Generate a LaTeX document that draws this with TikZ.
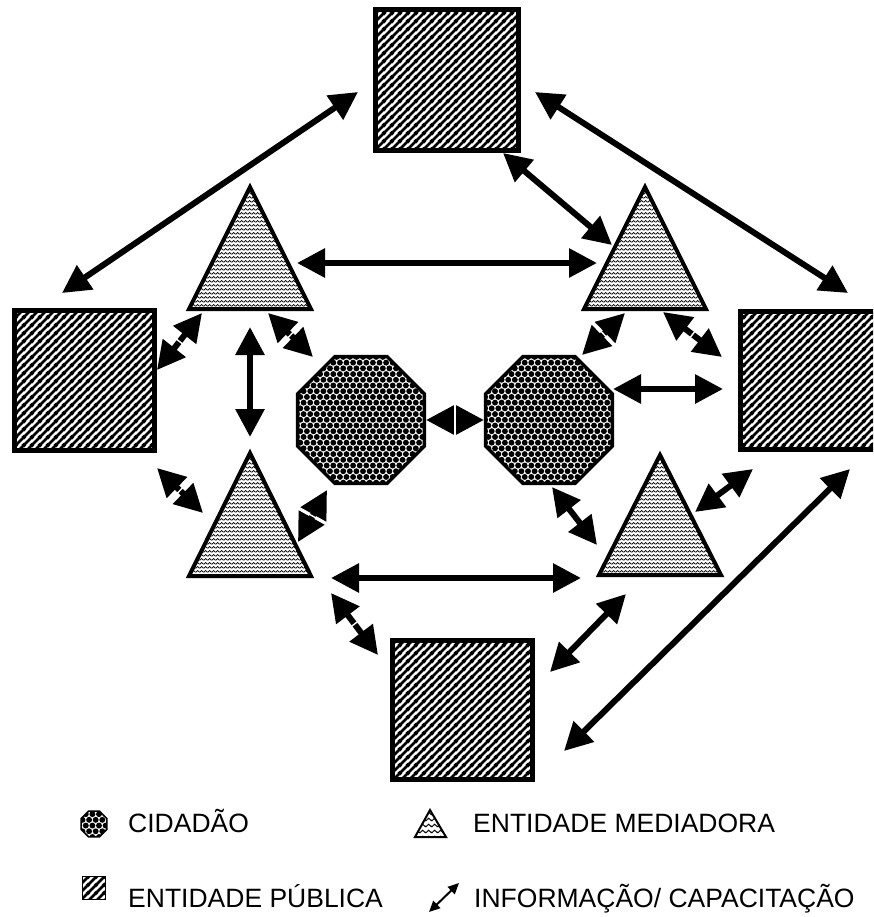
\documentclass[tikz,border=0pt]{standalone}
\usepackage{fontspec}
\setmainfont{Liberation Sans}
\usetikzlibrary{arrows.meta,shapes.geometric,patterns,decorations.markings,calc}

% diagonal hatching for public entities
\pgfdeclarepatternformonly{hatchA}{\pgfqpoint{0pt}{0pt}}{\pgfqpoint{8pt}{8pt}}{\pgfqpoint{8pt}{8pt}}{%
  \pgfsetlinewidth{2.8pt}%
  \pgfpathmoveto{\pgfqpoint{-1pt}{-1pt}}\pgfpathlineto{\pgfqpoint{9pt}{9pt}}%
  \pgfpathmoveto{\pgfqpoint{-1.5pt}{6.5pt}}\pgfpathlineto{\pgfqpoint{1.5pt}{9.5pt}}%
  \pgfpathmoveto{\pgfqpoint{6.5pt}{-1.5pt}}\pgfpathlineto{\pgfqpoint{9.5pt}{1.5pt}}%
  \pgfusepath{stroke}}
% zigzag for mediating entities
\pgfdeclarepatternformonly{wavyA}{\pgfqpoint{0pt}{0pt}}{\pgfqpoint{4pt}{3.7pt}}{\pgfqpoint{4pt}{3.7pt}}{%
  \pgfsetlinewidth{0.9pt}%
  \pgfpathmoveto{\pgfqpoint{-0.5pt}{1.4pt}}%
  \pgfpathlineto{\pgfqpoint{0pt}{1pt}}%
  \pgfpathlineto{\pgfqpoint{2pt}{2.7pt}}%
  \pgfpathlineto{\pgfqpoint{4pt}{1pt}}%
  \pgfpathlineto{\pgfqpoint{4.5pt}{1.4pt}}%
  \pgfusepath{stroke}}
\pgfdeclarepatternformonly{wavyB}{\pgfqpoint{0pt}{0pt}}{\pgfqpoint{6pt}{5.5pt}}{\pgfqpoint{6pt}{5.5pt}}{%
  \pgfsetlinewidth{1.1pt}%
  \pgfpathmoveto{\pgfqpoint{-0.8pt}{2.1pt}}%
  \pgfpathlineto{\pgfqpoint{0pt}{1.4pt}}%
  \pgfpathlineto{\pgfqpoint{3pt}{4pt}}%
  \pgfpathlineto{\pgfqpoint{6pt}{1.4pt}}%
  \pgfpathlineto{\pgfqpoint{6.8pt}{2.1pt}}%
  \pgfusepath{stroke}}
% dense balls for citizens
\pgfdeclarepatternformonly{ballsA}{\pgfqpoint{-3.1pt}{-3.1pt}}{\pgfqpoint{6.4pt}{8.8pt}}{\pgfqpoint{6.6pt}{11.43pt}}{%
  \pgfpathcircle{\pgfqpoint{0pt}{0pt}}{2.95pt}%
  \pgfpathcircle{\pgfqpoint{3.3pt}{5.715pt}}{2.95pt}%
  \pgfusepath{fill}}

\tikzset{
  sq/.style={draw, line width=5pt, pattern=hatchA, inner sep=0pt},
  tri/.style={draw, line width=4pt, line join=miter, pattern=wavyA},
  oct/.style={draw, line width=3.5pt, regular polygon, regular polygon sides=8,
    pattern=ballsA, minimum size=137pt, inner sep=0pt},
  dbl/.style={line width=6pt,
    {Triangle[length=28pt,width=28pt]}-{Triangle[length=28pt,width=28pt]}},
  brk/.style={postaction={decorate, decoration={markings,
    mark=at position 0.5 with {\draw[white, line width=1.4pt, -] (0pt,-15pt) -- (0pt,15pt);}}}},
  legtext/.style={font=\fontsize{26.5pt}{30pt}\selectfont, anchor=base west, inner sep=0pt},
}

\begin{document}
\begin{tikzpicture}[x=1pt,y=-1pt]
\fill[white] (0,0) rectangle (873,917);
\useasboundingbox (0,0) rectangle (873,917);
\clip (0,0) rectangle (873,917);

% public entities (squares)
\node[sq, minimum width=143pt, minimum height=141pt] (sqT) at (447,80) {};
\node[sq, minimum width=140pt, minimum height=140pt] (sqL) at (84.5,380.5) {};
\node[sq, minimum width=138pt, minimum height=138pt] (sqR) at (809.5,380.5) {};
\node[sq, minimum width=140pt, minimum height=139pt] (sqB) at (462.5,710) {};

% mediating entities (triangles)
\draw[tri] (250,187) -- (189,309) -- (311,309) -- cycle;
\draw[tri] (645,187) -- (584,309) -- (706,309) -- cycle;
\draw[tri] (250,453) -- (189,576) -- (311,576) -- cycle;
\draw[tri] (660,455) -- (599,575) -- (721,575) -- cycle;
\coordinate (tTL) at (250,250);
\coordinate (tTR) at (645,250);
\coordinate (tBL) at (250,515);
\coordinate (tBR) at (660,515);

% citizens (octagons)
\node[oct] (octL) at (361,420) {};
\node[oct] (octR) at (549,420) {};

% connectors
\draw[dbl] ([shift={(-89,12)}]sqT.center) -- ([shift={(-22.5,-87.5)}]sqL.center);
\draw[dbl] ([shift={(88,12)}]sqT.center) -- ([shift={(38.5,-87.5)}]sqR.center);
\draw[dbl] ([shift={(56,73)}]sqT.center) -- ([shift={(-33,-5)}]tTR);
\draw[dbl] ([shift={(47,13)}]tTL) -- ([shift={(-48,13)}]tTR);
\draw[dbl,brk] ([shift={(72.5,-10.5)}]sqL.center) -- ([shift={(-48,63)}]tTL);
\draw[dbl,brk] ([shift={(18,63)}]tTL) -- ([shift={(-48,-63)}]octL.center);
\draw[dbl] ([shift={(0,77)}]tTL) -- ([shift={(0,-78)}]tBL);
\draw[dbl,brk] ([shift={(72.5,87.5)}]sqL.center) -- ([shift={(-47,-2)}]tBL);
\draw[dbl,brk] ([shift={(48,27)}]tBL) -- ([shift={(-34,70)}]octL.center);
\draw[dbl] ([shift={(81,63)}]tBL) -- ([shift={(-79,63)}]tBR);
\draw[dbl,brk] ([shift={(81,78)}]tBL) -- ([shift={(-84.5,-55)}]sqB.center);
\draw[dbl] ([shift={(3,67)}]octR.center) -- ([shift={(-63,30)}]tBR);
\draw[dbl,brk] ([shift={(-20,63)}]tTR) -- ([shift={(33,-65)}]octR.center);
\draw[dbl,brk] ([shift={(18,62)}]tTR) -- ([shift={(-87.5,-23.5)}]sqR.center);
\draw[dbl] ([shift={(64,-31)}]octR.center) -- ([shift={(-86.5,8.5)}]sqR.center);
\draw[dbl] ([shift={(35,-3)}]tBR) -- ([shift={(-56.5,88.5)}]sqR.center);
\draw[dbl] ([shift={(-34,79)}]tBR) -- ([shift={(87.5,-38)}]sqB.center);
\draw[dbl] ([shift={(101.5,41)}]sqB.center) -- ([shift={(40.5,88.5)}]sqR.center);
\draw[dbl,brk] (octL.east) -- (octR.west);

% legend
\node[draw, line width=1.5pt, regular polygon, regular polygon sides=8,
  pattern=ballsA, minimum size=28pt, inner sep=0pt] (legOct) at (94,824) {};
\node[legtext] (txtCid) at (128,832) {CIDADÃO};
\draw[line width=2pt, line join=miter, pattern=wavyB] (430,810) -- (415,837) -- (446,837) -- cycle;
\coordinate (legTri) at (430,826);
\node[legtext] (txtMed) at (473,832) {ENTIDADE MEDIADORA};
\node[draw, line width=1.8pt, pattern=hatchA, minimum size=23pt, inner sep=0pt] (legSq) at (94,888) {};
\node[legtext] (txtPub) at (128,907) {ENTIDADE PÚBLICA};
\coordinate (legArA) at (429,912);
\coordinate (legArB) at (459,883);
\draw[line width=2pt, {Triangle[length=11pt,width=10pt]}-{Triangle[length=11pt,width=10pt]}] (legArA) -- (legArB);
\node[legtext] (txtInf) at (474,907) {INFORMAÇÃO/ CAPACITAÇÃO};
\end{tikzpicture}
\end{document}
